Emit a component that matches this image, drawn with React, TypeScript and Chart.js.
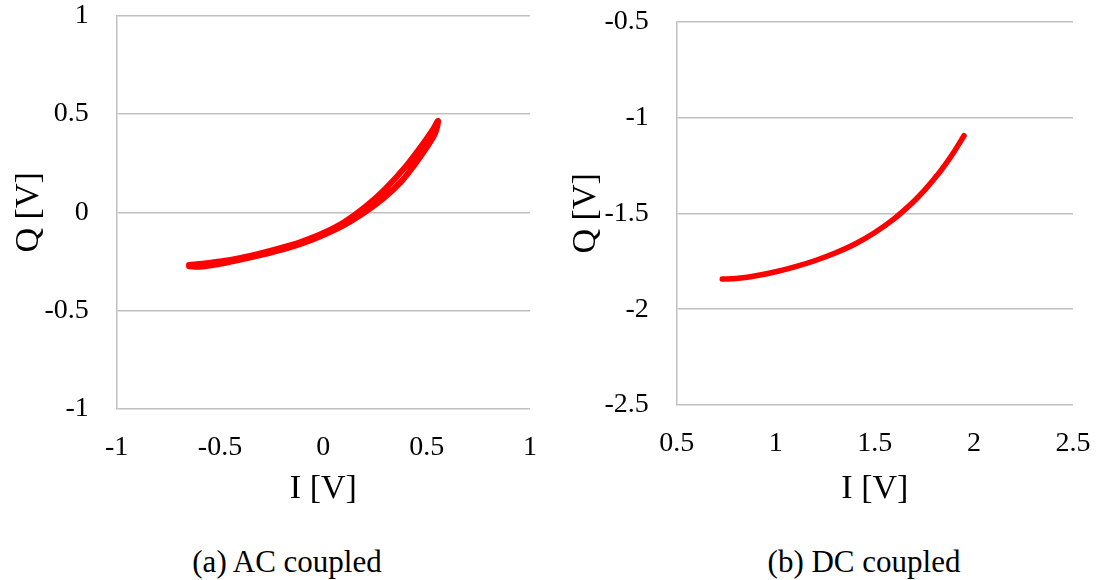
import React, { useEffect, useRef } from "react";
import { Chart, registerables } from "chart.js";

Chart.register(...registerables);

// AC coupled: loop, outbound branch then return branch
const acI = [-0.65, -0.6, -0.5, -0.4, -0.3, -0.2, -0.1, 0, 0.1, 0.2, 0.3, 0.4, 0.48, 0.53, 0.555,
  0.54, 0.5, 0.44, 0.38, 0.3, 0.2, 0.1, 0, -0.1, -0.2, -0.3, -0.4, -0.5, -0.6, -0.65];
const acQ = [-0.268, -0.262, -0.25, -0.232, -0.208, -0.18, -0.147, -0.105, -0.05, 0.025, 0.12, 0.235, 0.345, 0.42, 0.465,
  0.4, 0.33, 0.24, 0.16, 0.08, 0.0, -0.065, -0.115, -0.157, -0.19, -0.216, -0.24, -0.262, -0.277, -0.274];

// DC coupled
const dcI = [0.73, 0.8, 0.9, 1.0, 1.1, 1.2, 1.3, 1.4, 1.5, 1.6, 1.65, 1.7, 1.75, 1.8, 1.85, 1.9, 1.95];
const dcQ = [-1.843, -1.84, -1.826, -1.805, -1.778, -1.746, -1.707, -1.66, -1.6, -1.526, -1.482, -1.434, -1.38, -1.32, -1.253, -1.178, -1.095];

const acXTicks = [-1, -0.5, 0, 0.5, 1];
const acYTicks = [-1, -0.5, 0, 0.5, 1];
const dcXTicks = [0.5, 1, 1.5, 2, 2.5];
const dcYTicks = [-2.5, -2, -1.5, -1, -0.5];

const captions = ["(a) AC coupled", "(b) DC coupled"];
const xTitle = "I [V]";
const yTitle = "Q [V]";

const FONT = "'Liberation Serif', 'Times New Roman', serif";
const GRID = "#c0c0c0";

type PanelCfg = {
  xs: number[];
  ys: number[];
  xTicks: number[];
  yTicks: number[];
  yAxisWidth: number;
  xAxisHeight: number;
  padTop: number;
  padRight: number;
  yTitlePad: number;
  lineWidth: number;
  monotone: boolean;
};

function Panel({ cfg }: { cfg: PanelCfg }) {
  const ref = useRef<HTMLCanvasElement | null>(null);
  useEffect(() => {
    if (!ref.current) return;
    const pts = cfg.xs.map((x, i) => ({ x, y: cfg.ys[i] }));
    const chart = new Chart(ref.current, {
      type: "scatter",
      data: {
        datasets: [
          {
            data: pts,
            showLine: true,
            borderColor: "#ff0000",
            backgroundColor: "#ff0000",
            borderWidth: cfg.lineWidth,
            pointRadius: 0,
            tension: 0.35,
            cubicInterpolationMode: cfg.monotone ? "monotone" : "default",
            borderCapStyle: "round",
            borderJoinStyle: "round",
          } as any,
        ],
      },
      options: {
        animation: false,
        responsive: false,
        maintainAspectRatio: false,
        plugins: { legend: { display: false }, tooltip: { enabled: false } },
        layout: { padding: { top: cfg.padTop, right: cfg.padRight, left: 0, bottom: 0 } },
        scales: {
          x: {
            type: "linear",
            min: cfg.xTicks[0],
            max: cfg.xTicks[cfg.xTicks.length - 1],
            afterBuildTicks: (s: any) => {
              s.ticks = cfg.xTicks.map((v) => ({ value: v }));
            },
            afterFit: (s: any) => {
              s.height = cfg.xAxisHeight;
              s.paddingLeft = 0;
              s.paddingRight = 0;
              s.paddingTop = 0;
              s.paddingBottom = 0;
            },
            grid: { display: false, drawTicks: false },
            border: { display: false },
            ticks: {
              font: { family: FONT, size: 28, lineHeight: 1 },
              color: "#000",
              padding: 25,
              maxRotation: 0,
              autoSkip: false,
              callback: (v: any) => String(v),
            },
            title: {
              display: true,
              text: xTitle,
              font: { family: FONT, size: 34, lineHeight: 1.2 },
              color: "#000",
              padding: { top: 0, bottom: 10.6 },
            },
          },
          y: {
            type: "linear",
            min: cfg.yTicks[0],
            max: cfg.yTicks[cfg.yTicks.length - 1],
            afterBuildTicks: (s: any) => {
              s.ticks = cfg.yTicks.map((v) => ({ value: v }));
            },
            afterFit: (s: any) => {
              s.width = cfg.yAxisWidth;
              s.paddingLeft = 0;
              s.paddingRight = 0;
              s.paddingTop = 0;
              s.paddingBottom = 0;
            },
            grid: { display: true, color: GRID, lineWidth: 1.5, drawTicks: false },
            border: { display: true, color: GRID, width: 1.5 },
            ticks: {
              font: { family: FONT, size: 28, lineHeight: 1 },
              color: "#000",
              padding: 28,
              autoSkip: false,
              callback: (v: any) => String(v),
            },
            title: {
              display: true,
              text: yTitle,
              font: { family: FONT, size: 34, lineHeight: 1.2 },
              color: "#000",
              padding: { top: cfg.yTitlePad, bottom: 0 },
            },
          },
        },
      },
    });
    return () => chart.destroy();
  }, []);
  return <canvas ref={ref} width={548} height={520} style={{ display: "block", width: 548, height: 520 }} />;
}

const leftCfg: PanelCfg = {
  xs: acI,
  ys: acQ,
  xTicks: acXTicks,
  yTicks: acYTicks,
  yAxisWidth: 116.7,
  xAxisHeight: 111,
  padTop: 15.7,
  padRight: 18,
  yTitlePad: 8.6,
  lineWidth: 6,
  monotone: false,
};

const rightCfg: PanelCfg = {
  xs: dcI,
  ys: dcQ,
  xTicks: dcXTicks,
  yTicks: dcYTicks,
  yAxisWidth: 128.7,
  xAxisHeight: 115,
  padTop: 21.7,
  padRight: 23,
  yTitlePad: 17.6,
  lineWidth: 5.5,
  monotone: true,
};

export default function App() {
  const capStyle = (left: number): React.CSSProperties => ({
    position: "absolute",
    left,
    top: 544,
    width: 548,
    height: 36,
    lineHeight: "36px",
    textAlign: "center",
    fontFamily: FONT,
    fontSize: 31,
    color: "#000",
    whiteSpace: "nowrap",
  });
  return (
    <div style={{ position: "absolute", left: 0, top: 0, width: 1096, height: 580, background: "#fff", overflow: "hidden" }}>
      <div style={{ position: "absolute", left: 0, top: 0 }}>
        <Panel cfg={leftCfg} />
      </div>
      <div style={{ position: "absolute", left: 548, top: 0 }}>
        <Panel cfg={rightCfg} />
      </div>
      <div style={capStyle(13)}>{captions[0]}</div>
      <div style={capStyle(590)}>{captions[1]}</div>
    </div>
  );
}
